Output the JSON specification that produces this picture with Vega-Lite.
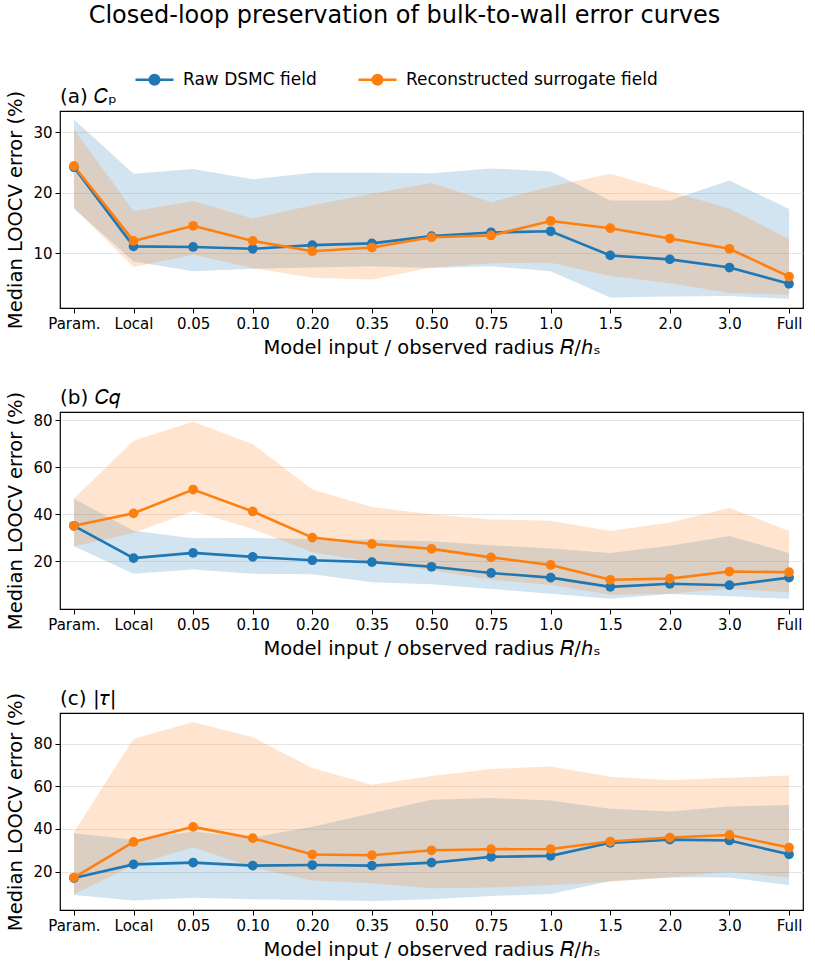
{
  "$schema": "https://vega.github.io/schema/vega-lite/v6.json",
  "title": {
    "text": "Closed-loop preservation of bulk-to-wall error curves",
    "fontSize": 24,
    "fontWeight": "normal",
    "anchor": "middle",
    "offset": 31
  },
  "padding": {"left": 5, "right": 5, "top": 4, "bottom": 5},
  "datasets": {
    "err": [
      {"p": "a", "x": "Param.", "s": "Raw DSMC field", "m": 24.2, "lo": 17.4, "hi": 32.1},
      {"p": "a", "x": "Local", "s": "Raw DSMC field", "m": 11.1, "lo": 8.6, "hi": 23.1},
      {"p": "a", "x": "0.05", "s": "Raw DSMC field", "m": 11.0, "lo": 7.0, "hi": 23.9},
      {"p": "a", "x": "0.10", "s": "Raw DSMC field", "m": 10.7, "lo": 7.4, "hi": 22.2},
      {"p": "a", "x": "0.20", "s": "Raw DSMC field", "m": 11.3, "lo": 7.6, "hi": 23.3},
      {"p": "a", "x": "0.35", "s": "Raw DSMC field", "m": 11.6, "lo": 7.8, "hi": 23.3},
      {"p": "a", "x": "0.50", "s": "Raw DSMC field", "m": 12.8, "lo": 7.5, "hi": 23.2},
      {"p": "a", "x": "0.75", "s": "Raw DSMC field", "m": 13.4, "lo": 7.8, "hi": 24.0},
      {"p": "a", "x": "1.0", "s": "Raw DSMC field", "m": 13.6, "lo": 7.0, "hi": 23.5},
      {"p": "a", "x": "1.5", "s": "Raw DSMC field", "m": 9.6, "lo": 2.65, "hi": 18.7},
      {"p": "a", "x": "2.0", "s": "Raw DSMC field", "m": 8.95, "lo": 2.8, "hi": 18.7},
      {"p": "a", "x": "3.0", "s": "Raw DSMC field", "m": 7.6, "lo": 2.9, "hi": 22.0},
      {"p": "a", "x": "Full", "s": "Raw DSMC field", "m": 4.9, "lo": 2.4, "hi": 17.3},
      {"p": "a", "x": "Param.", "s": "Reconstructed surrogate field", "m": 24.4, "lo": 17.4, "hi": 30.5},
      {"p": "a", "x": "Local", "s": "Reconstructed surrogate field", "m": 12.0, "lo": 7.7, "hi": 16.9},
      {"p": "a", "x": "0.05", "s": "Reconstructed surrogate field", "m": 14.5, "lo": 9.7, "hi": 18.6},
      {"p": "a", "x": "0.10", "s": "Reconstructed surrogate field", "m": 12.0, "lo": 7.5, "hi": 15.7},
      {"p": "a", "x": "0.20", "s": "Reconstructed surrogate field", "m": 10.3, "lo": 5.9, "hi": 17.9},
      {"p": "a", "x": "0.35", "s": "Reconstructed surrogate field", "m": 10.9, "lo": 5.6, "hi": 19.8},
      {"p": "a", "x": "0.50", "s": "Reconstructed surrogate field", "m": 12.6, "lo": 7.6, "hi": 21.6},
      {"p": "a", "x": "0.75", "s": "Reconstructed surrogate field", "m": 12.9, "lo": 8.3, "hi": 18.4},
      {"p": "a", "x": "1.0", "s": "Reconstructed surrogate field", "m": 15.3, "lo": 8.4, "hi": 21.0},
      {"p": "a", "x": "1.5", "s": "Reconstructed surrogate field", "m": 14.1, "lo": 6.2, "hi": 23.1},
      {"p": "a", "x": "2.0", "s": "Reconstructed surrogate field", "m": 12.4, "lo": 5.0, "hi": 20.2},
      {"p": "a", "x": "3.0", "s": "Reconstructed surrogate field", "m": 10.7, "lo": 3.4, "hi": 17.35},
      {"p": "a", "x": "Full", "s": "Reconstructed surrogate field", "m": 6.1, "lo": 3.1, "hi": 12.3},

      {"p": "b", "x": "Param.", "s": "Raw DSMC field", "m": 35.1, "lo": 26.4, "hi": 46.6},
      {"p": "b", "x": "Local", "s": "Raw DSMC field", "m": 21.4, "lo": 14.8, "hi": 33.0},
      {"p": "b", "x": "0.05", "s": "Raw DSMC field", "m": 23.6, "lo": 16.6, "hi": 29.8},
      {"p": "b", "x": "0.10", "s": "Raw DSMC field", "m": 21.9, "lo": 14.8, "hi": 29.9},
      {"p": "b", "x": "0.20", "s": "Raw DSMC field", "m": 20.5, "lo": 14.5, "hi": 29.5},
      {"p": "b", "x": "0.35", "s": "Raw DSMC field", "m": 19.7, "lo": 11.1, "hi": 29.2},
      {"p": "b", "x": "0.50", "s": "Raw DSMC field", "m": 17.7, "lo": 10.3, "hi": 28.5},
      {"p": "b", "x": "0.75", "s": "Raw DSMC field", "m": 15.1, "lo": 8.3, "hi": 26.9},
      {"p": "b", "x": "1.0", "s": "Raw DSMC field", "m": 13.1, "lo": 6.3, "hi": 25.5},
      {"p": "b", "x": "1.5", "s": "Raw DSMC field", "m": 9.2, "lo": 4.1, "hi": 23.6},
      {"p": "b", "x": "2.0", "s": "Raw DSMC field", "m": 10.5, "lo": 6.2, "hi": 26.6},
      {"p": "b", "x": "3.0", "s": "Raw DSMC field", "m": 9.9, "lo": 5.2, "hi": 30.8},
      {"p": "b", "x": "Full", "s": "Raw DSMC field", "m": 13.1, "lo": 4.1, "hi": 23.6},
      {"p": "b", "x": "Param.", "s": "Reconstructed surrogate field", "m": 35.1, "lo": 26.4, "hi": 46.7},
      {"p": "b", "x": "Local", "s": "Reconstructed surrogate field", "m": 40.4, "lo": 32.0, "hi": 71.2},
      {"p": "b", "x": "0.05", "s": "Reconstructed surrogate field", "m": 50.5, "lo": 41.4, "hi": 79.3},
      {"p": "b", "x": "0.10", "s": "Reconstructed surrogate field", "m": 41.2, "lo": 33.7, "hi": 69.8},
      {"p": "b", "x": "0.20", "s": "Reconstructed surrogate field", "m": 30.1, "lo": 23.9, "hi": 50.5},
      {"p": "b", "x": "0.35", "s": "Reconstructed surrogate field", "m": 27.4, "lo": 19.7, "hi": 43.1},
      {"p": "b", "x": "0.50", "s": "Reconstructed surrogate field", "m": 25.3, "lo": 16.2, "hi": 40.0},
      {"p": "b", "x": "0.75", "s": "Reconstructed surrogate field", "m": 21.7, "lo": 12.2, "hi": 37.8},
      {"p": "b", "x": "1.0", "s": "Reconstructed surrogate field", "m": 18.5, "lo": 10.1, "hi": 37.3},
      {"p": "b", "x": "1.5", "s": "Reconstructed surrogate field", "m": 12.2, "lo": 5.9, "hi": 32.9},
      {"p": "b", "x": "2.0", "s": "Reconstructed surrogate field", "m": 12.7, "lo": 6.3, "hi": 36.5},
      {"p": "b", "x": "3.0", "s": "Reconstructed surrogate field", "m": 15.7, "lo": 8.4, "hi": 42.7},
      {"p": "b", "x": "Full", "s": "Reconstructed surrogate field", "m": 15.4, "lo": 6.9, "hi": 32.9},

      {"p": "c", "x": "Param.", "s": "Raw DSMC field", "m": 17.0, "lo": 9.0, "hi": 38.0},
      {"p": "c", "x": "Local", "s": "Raw DSMC field", "m": 23.4, "lo": 6.5, "hi": 34.9},
      {"p": "c", "x": "0.05", "s": "Raw DSMC field", "m": 24.2, "lo": 7.8, "hi": 38.8},
      {"p": "c", "x": "0.10", "s": "Raw DSMC field", "m": 22.8, "lo": 7.0, "hi": 36.0},
      {"p": "c", "x": "0.20", "s": "Raw DSMC field", "m": 23.1, "lo": 6.7, "hi": 41.1},
      {"p": "c", "x": "0.35", "s": "Raw DSMC field", "m": 22.8, "lo": 6.2, "hi": 47.4},
      {"p": "c", "x": "0.50", "s": "Raw DSMC field", "m": 24.2, "lo": 7.0, "hi": 53.7},
      {"p": "c", "x": "0.75", "s": "Raw DSMC field", "m": 26.9, "lo": 8.6, "hi": 54.5},
      {"p": "c", "x": "1.0", "s": "Raw DSMC field", "m": 27.4, "lo": 9.5, "hi": 53.4},
      {"p": "c", "x": "1.5", "s": "Raw DSMC field", "m": 33.5, "lo": 15.6, "hi": 49.5},
      {"p": "c", "x": "2.0", "s": "Raw DSMC field", "m": 35.0, "lo": 17.2, "hi": 48.2},
      {"p": "c", "x": "3.0", "s": "Raw DSMC field", "m": 34.6, "lo": 17.2, "hi": 50.5},
      {"p": "c", "x": "Full", "s": "Raw DSMC field", "m": 28.1, "lo": 13.7, "hi": 51.3},
      {"p": "c", "x": "Param.", "s": "Reconstructed surrogate field", "m": 17.2, "lo": 9.3, "hi": 38.5},
      {"p": "c", "x": "Local", "s": "Reconstructed surrogate field", "m": 33.9, "lo": 23.1, "hi": 82.3},
      {"p": "c", "x": "0.05", "s": "Reconstructed surrogate field", "m": 41.0, "lo": 31.4, "hi": 90.2},
      {"p": "c", "x": "0.10", "s": "Reconstructed surrogate field", "m": 35.7, "lo": 22.0, "hi": 83.0},
      {"p": "c", "x": "0.20", "s": "Reconstructed surrogate field", "m": 28.0, "lo": 15.8, "hi": 68.6},
      {"p": "c", "x": "0.35", "s": "Reconstructed surrogate field", "m": 27.7, "lo": 14.5, "hi": 60.7},
      {"p": "c", "x": "0.50", "s": "Reconstructed surrogate field", "m": 30.0, "lo": 12.2, "hi": 64.9},
      {"p": "c", "x": "0.75", "s": "Reconstructed surrogate field", "m": 30.5, "lo": 12.5, "hi": 68.1},
      {"p": "c", "x": "1.0", "s": "Reconstructed surrogate field", "m": 30.6, "lo": 13.7, "hi": 69.3},
      {"p": "c", "x": "1.5", "s": "Reconstructed surrogate field", "m": 34.1, "lo": 15.3, "hi": 64.5},
      {"p": "c", "x": "2.0", "s": "Reconstructed surrogate field", "m": 36.0, "lo": 17.3, "hi": 62.8},
      {"p": "c", "x": "3.0", "s": "Reconstructed surrogate field", "m": 37.2, "lo": 20.0, "hi": 64.0},
      {"p": "c", "x": "Full", "s": "Reconstructed surrogate field", "m": 31.3, "lo": 17.2, "hi": 65.1}
    ]
  },
  "data": {"name": "err"},
  "spacing": 29,
  "resolve": {"scale": {"y": "independent", "x": "shared", "color": "shared"}},
  "vconcat": [
    {
      "width": 743,
      "height": 197,
      "title": {"text": "(a) 𝐶ₚ", "anchor": "start", "frame": "group", "fontSize": 20, "fontWeight": "normal", "offset": -17},
      "transform": [{"filter": "datum.p == 'a'"}],
      "encoding": {
        "x": {
          "field": "x", "type": "ordinal",
          "sort": ["Param.", "Local", "0.05", "0.10", "0.20", "0.35", "0.50", "0.75", "1.0", "1.5", "2.0", "3.0", "Full"],
          "scale": {"type": "point", "padding": 0.234},
          "axis": {"title": "Model input / observed radius 𝑅/ℎₛ", "labelAngle": 0}
        }
      },
      "layer": [
        {
          "mark": {"type": "area", "opacity": 0.2},
          "encoding": {
            "y": {"field": "lo", "type": "quantitative", "scale": {"domain": [0.9, 33.5], "nice": false, "zero": false}, "axis": {"values": [10, 20, 30], "title": "Median LOOCV error (%)"}},
            "y2": {"field": "hi"},
            "color": {
              "field": "s", "type": "nominal",
              "scale": {"domain": ["Raw DSMC field", "Reconstructed surrogate field"], "range": ["#1f77b4", "#ff7f0e"]},
              "legend": {
                "orient": "none",
                "legendX": 74,
                "legendY": -52,
                "direction": "horizontal",
                "title": null,
                "labelFontSize": 17,
                "labelColor": "black",
                "labelLimit": 400,
                "symbolType": "M-1,0L1,0M-0.25,0A0.25,0.25,0,1,1,0.25,0A0.25,0.25,0,1,1,-0.25,0Z",
                "symbolSize": 1444,
                "symbolStrokeWidth": 2.6,
                "symbolOpacity": 1,
                "columnPadding": 36,
                "labelOffset": 8,
                "encode": {"symbols": {"update": {"fill": {"scale": "color", "field": "value"}, "stroke": {"scale": "color", "field": "value"}, "fillOpacity": {"value": 1}, "strokeOpacity": {"value": 1}, "opacity": {"value": 1}}}}
              }
            }
          }
        },
        {
          "mark": {"type": "line", "strokeWidth": 2.6},
          "encoding": {
            "y": {"field": "m", "type": "quantitative", "axis": {"values": [10, 20, 30], "title": "Median LOOCV error (%)"}},
            "color": {"field": "s", "type": "nominal"}
          }
        },
        {
          "mark": {"type": "point", "filled": true, "opacity": 1, "size": 95},
          "encoding": {
            "y": {"field": "m", "type": "quantitative", "axis": {"values": [10, 20, 30], "title": "Median LOOCV error (%)"}},
            "color": {"field": "s", "type": "nominal"}
          }
        }
      ]
    },
    {
      "width": 743,
      "height": 197,
      "title": {"text": "(b) 𝐶𝑞", "anchor": "start", "frame": "group", "fontSize": 20, "fontWeight": "normal", "offset": -17},
      "transform": [{"filter": "datum.p == 'b'"}],
      "encoding": {
        "x": {
          "field": "x", "type": "ordinal",
          "sort": ["Param.", "Local", "0.05", "0.10", "0.20", "0.35", "0.50", "0.75", "1.0", "1.5", "2.0", "3.0", "Full"],
          "scale": {"type": "point", "padding": 0.234},
          "axis": {"title": "Model input / observed radius 𝑅/ℎₛ", "labelAngle": 0}
        }
      },
      "layer": [
        {
          "mark": {"type": "area", "opacity": 0.2},
          "encoding": {
            "y": {"field": "lo", "type": "quantitative", "scale": {"domain": [-0.2, 83.4], "nice": false, "zero": false}, "axis": {"values": [20, 40, 60, 80], "title": "Median LOOCV error (%)"}},
            "y2": {"field": "hi"},
            "color": {"field": "s", "type": "nominal"}
          }
        },
        {
          "mark": {"type": "line", "strokeWidth": 2.6},
          "encoding": {
            "y": {"field": "m", "type": "quantitative", "axis": {"values": [20, 40, 60, 80], "title": "Median LOOCV error (%)"}},
            "color": {"field": "s", "type": "nominal"}
          }
        },
        {
          "mark": {"type": "point", "filled": true, "opacity": 1, "size": 95},
          "encoding": {
            "y": {"field": "m", "type": "quantitative", "axis": {"values": [20, 40, 60, 80], "title": "Median LOOCV error (%)"}},
            "color": {"field": "s", "type": "nominal"}
          }
        }
      ]
    },
    {
      "width": 743,
      "height": 197,
      "title": {"text": "(c) |𝜏|", "anchor": "start", "frame": "group", "fontSize": 20, "fontWeight": "normal", "offset": -17},
      "transform": [{"filter": "datum.p == 'c'"}],
      "encoding": {
        "x": {
          "field": "x", "type": "ordinal",
          "sort": ["Param.", "Local", "0.05", "0.10", "0.20", "0.35", "0.50", "0.75", "1.0", "1.5", "2.0", "3.0", "Full"],
          "scale": {"type": "point", "padding": 0.234},
          "axis": {"title": "Model input / observed radius 𝑅/ℎₛ", "labelAngle": 0}
        }
      },
      "layer": [
        {
          "mark": {"type": "area", "opacity": 0.2},
          "encoding": {
            "y": {"field": "lo", "type": "quantitative", "scale": {"domain": [2.0, 94.4], "nice": false, "zero": false}, "axis": {"values": [20, 40, 60, 80], "title": "Median LOOCV error (%)"}},
            "y2": {"field": "hi"},
            "color": {"field": "s", "type": "nominal"}
          }
        },
        {
          "mark": {"type": "line", "strokeWidth": 2.6},
          "encoding": {
            "y": {"field": "m", "type": "quantitative", "axis": {"values": [20, 40, 60, 80], "title": "Median LOOCV error (%)"}},
            "color": {"field": "s", "type": "nominal"}
          }
        },
        {
          "mark": {"type": "point", "filled": true, "opacity": 1, "size": 95},
          "encoding": {
            "y": {"field": "m", "type": "quantitative", "axis": {"values": [20, 40, 60, 80], "title": "Median LOOCV error (%)"}},
            "color": {"field": "s", "type": "nominal"}
          }
        }
      ]
    }
  ],
  "config": {
    "font": "DejaVu Sans",
    "view": {"stroke": "black", "strokeWidth": 1.2},
    "title": {"color": "black"},
    "axis": {
      "domain": false,
      "labelFontSize": 15,
      "labelColor": "black",
      "titleFontSize": 19.5,
      "titleFontWeight": "normal",
      "titleColor": "black",
      "tickColor": "black",
      "tickSize": 5,
      "tickWidth": 1,
      "labelPadding": 3,
      "gridColor": "#cccccc",
      "gridOpacity": 0.5
    },
    "axisX": {"grid": false, "titlePadding": 7},
    "axisY": {"grid": true, "titlePadding": 7}
  }
}
